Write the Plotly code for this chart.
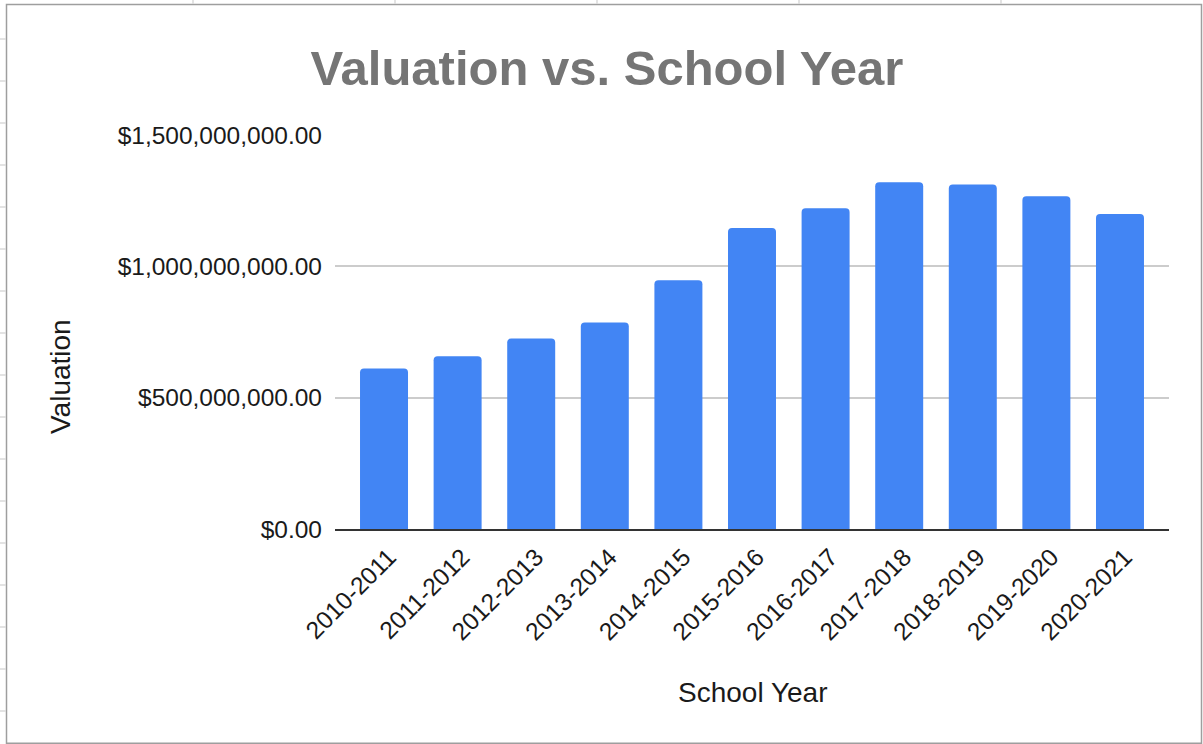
import plotly.graph_objects as go

# ---- data ----
school_years = ["2010-2011", "2011-2012", "2012-2013", "2013-2014", "2014-2015",
                "2015-2016", "2016-2017", "2017-2018", "2018-2019", "2019-2020",
                "2020-2021"]
valuation = [611e6, 658e6, 725e6, 786e6, 947e6,
             1146e6, 1221e6, 1320e6, 1312e6, 1267e6, 1199e6]
y_ticks = [0, 500e6, 1000e6, 1500e6]
y_tick_labels = ["$" + f"{v:,.2f}" for v in y_ticks]

title_text = "Valuation vs. School Year"
x_title = "School Year"
y_title = "Valuation"

# ---- layout geometry (pixels) ----
W, H = 1203, 744
L, R, T, B = 335, 34, 135, 215
PW, PH = W - L - R, H - T - B


def px(x):
    return (x - L) / PW


def py(y):
    return (H - B - y) / PH


FONT = "Liberation Sans, Arial, sans-serif"
TXT = "#1a1a1a"

fig = go.Figure(
    go.Bar(
        x=school_years,
        y=valuation,
        marker=dict(color="#4285F4", line=dict(width=0)),
        hoverinfo="x+y",
    )
)

shapes = []
# spreadsheet frame around the chart
frame_col = "#9e9e9e"
stub_col = "#dadada"
shapes.append(dict(type="rect", xref="paper", yref="paper",
                   x0=px(6.5), x1=px(1201.5), y0=py(4.5), y1=py(743.3),
                   line=dict(color=frame_col, width=1.5), layer="below"))
for k in range(17):
    yy = 39 + 42 * k
    shapes.append(dict(type="line", xref="paper", yref="paper",
                       x0=px(0), x1=px(6), y0=py(yy), y1=py(yy),
                       line=dict(color=stub_col, width=1.5)))
for xx in [193, 395, 597, 799, 1001]:
    shapes.append(dict(type="line", xref="paper", yref="paper",
                       x0=px(xx), x1=px(xx), y0=py(0), y1=py(4),
                       line=dict(color=stub_col, width=1.5)))

fig.update_layout(
    width=W, height=H,
    margin=dict(l=L, r=R, t=T, b=B, pad=0),
    paper_bgcolor="white",
    plot_bgcolor="white",
    showlegend=False,
    bargap=0.348,
    barcornerradius=4,
    font=dict(family=FONT, color=TXT, size=24),
    title=dict(
        text="<b>" + title_text + "</b>",
        font=dict(family=FONT, size=49, color="#757575"),
        xref="container", yref="container",
        x=607 / W, xanchor="center",
        y=1 - 68 / H, yanchor="middle",
    ),
    xaxis=dict(
        type="category",
        range=[-0.666, len(school_years) - 1 + 0.666],
        showgrid=False,
        showline=True, linecolor="#333333", linewidth=2,
        ticks="", tickangle=-45,
        ticklabelstandoff=2,
        ticklabelshift=5,
        tickfont=dict(family=FONT, size=24.5, color=TXT),
        zeroline=False,
    ),
    yaxis=dict(
        range=[0, 1500e6],
        tickmode="array",
        tickvals=y_ticks,
        ticktext=y_tick_labels,
        showgrid=True, gridcolor="#cccccc", gridwidth=1.5,
        zeroline=False, showline=False, ticks="",
        ticklabelstandoff=12,
        tickfont=dict(family=FONT, size=24.5, color=TXT),
    ),
    annotations=[
        dict(text=y_title, xref="paper", yref="paper",
             x=px(60), y=py(377), xanchor="center", yanchor="middle",
             textangle=-90, showarrow=False,
             font=dict(family=FONT, size=28, color=TXT)),
        dict(text=x_title, xref="paper", yref="paper",
             x=px(752), y=py(692), xanchor="center", yanchor="middle",
             showarrow=False,
             font=dict(family=FONT, size=28, color=TXT)),
    ],
    shapes=shapes,
)

fig.write_html(
    "out.html",
    include_plotlyjs=True,
    config={"displayModeBar": False},
    post_script="document.body.style.margin='0';document.body.style.overflow='hidden';",
)
